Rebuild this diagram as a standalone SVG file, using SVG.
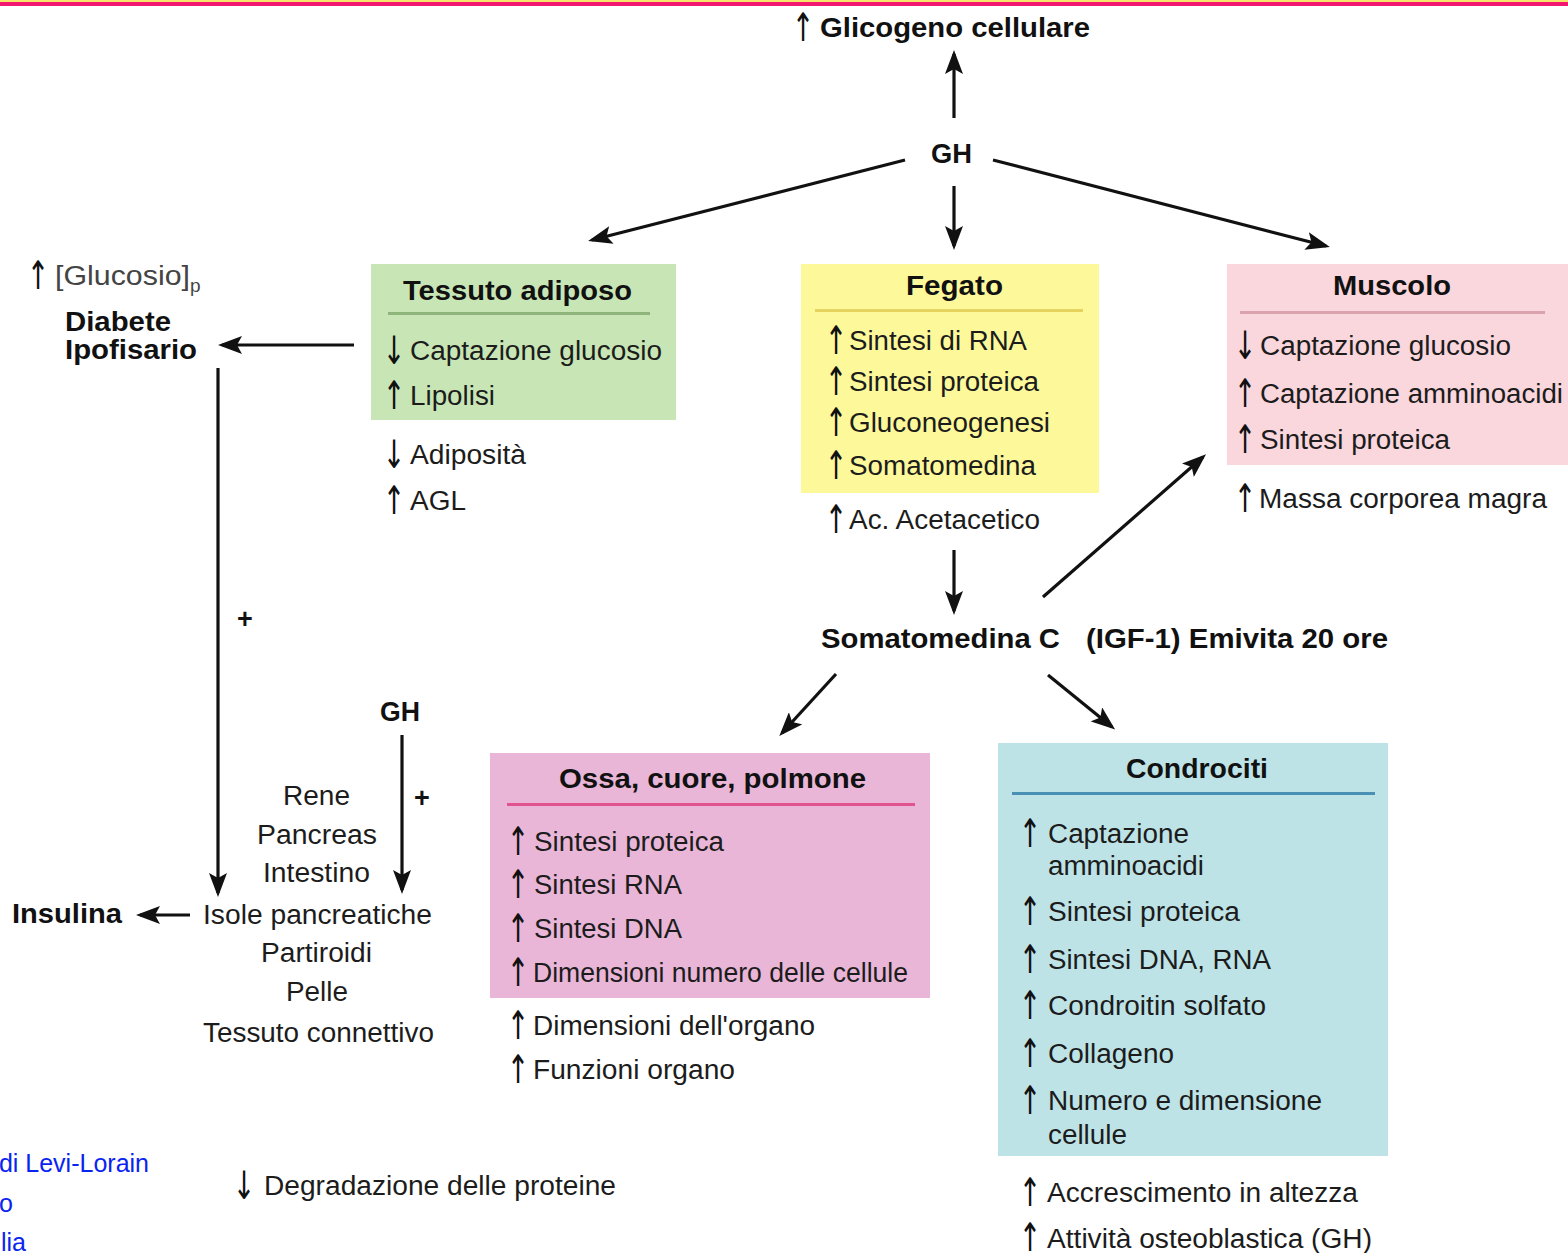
<svg xmlns="http://www.w3.org/2000/svg" width="1568" height="1253" viewBox="0 0 1568 1253">
<style>
text{font-family:"Liberation Sans",Arial,sans-serif;fill:#1c1c1c}
.r{font-size:27px}
.b{font-size:27px;font-weight:bold;fill:#111}
.ar{font-size:27px;font-family:"DejaVu Sans",sans-serif;fill:#111;text-anchor:middle}
.blue{fill:#0a24f0;font-size:25px}
.conn{stroke:#111;stroke-width:3.2;fill:none}
</style>
<defs>
<marker id="ah" markerUnits="userSpaceOnUse" markerWidth="24" markerHeight="18" viewBox="0 0 24 18" refX="20" refY="9" orient="auto">
<path d="M0,0 L24,9 L0,18 L5,9 z" fill="#111"/>
</marker>
</defs>
<rect x="0" y="0" width="1568" height="1253" fill="#fff"/>
<rect x="0" y="0" width="1568" height="2" fill="#f5e36a"/>
<rect x="0" y="2" width="1568" height="4" fill="#f2176f"/>

<g id="connectors">
<path class="conn" marker-end="url(#ah)" d="M954,118 L954,54"/>
<path class="conn" marker-end="url(#ah)" d="M954,186 L954,246"/>
<path class="conn" marker-end="url(#ah)" d="M905,160 L592,240"/>
<path class="conn" marker-end="url(#ah)" d="M993,160 L1326,246"/>
<path class="conn" marker-end="url(#ah)" d="M354,345 L222,345"/>
<path class="conn" marker-end="url(#ah)" d="M218,368 L218,893"/>
<path class="conn" marker-end="url(#ah)" d="M190,915 L140,915"/>
<path class="conn" marker-end="url(#ah)" d="M402,735 L402,890"/>
<path class="conn" marker-end="url(#ah)" d="M954,550 L954,611"/>
<path class="conn" marker-end="url(#ah)" d="M1043,597 L1203,457"/>
<path class="conn" marker-end="url(#ah)" d="M836,674 L782,733"/>
<path class="conn" marker-end="url(#ah)" d="M1048,675 L1112,727"/>
<text class="b" x="245" y="628" text-anchor="middle">+</text>
<text class="b" x="422" y="807" text-anchor="middle">+</text>
</g>

<g id="glicogeno">
<text class="ar" transform="translate(803,41) scale(1,1.45)">↑</text>
<text class="b" x="820" y="37" textLength="270" lengthAdjust="spacingAndGlyphs">Glicogeno cellulare</text>
</g>

<g id="gh-top">
<text class="b" x="931" y="163" textLength="41" lengthAdjust="spacingAndGlyphs">GH</text>
</g>

<g id="tessuto-adiposo">
<rect x="371" y="264" width="305" height="156" fill="#c8e6b5"/>
<text class="b" x="403" y="300" textLength="229" lengthAdjust="spacingAndGlyphs">Tessuto adiposo</text>
<rect x="388" y="312" width="262" height="3" fill="#8fb47c"/>
<text class="ar" transform="translate(394,364) scale(1,1.45)">↓</text>
<text class="r" x="410" y="360" textLength="252" lengthAdjust="spacingAndGlyphs">Captazione glucosio</text>
<text class="ar" transform="translate(394,409) scale(1,1.45)">↑</text>
<text class="r" x="410" y="405" textLength="85" lengthAdjust="spacingAndGlyphs">Lipolisi</text>
<text class="ar" transform="translate(394,468) scale(1,1.45)">↓</text>
<text class="r" x="410" y="464" textLength="116" lengthAdjust="spacingAndGlyphs">Adiposità</text>
<text class="ar" transform="translate(394,514) scale(1,1.45)">↑</text>
<text class="r" x="410" y="510" textLength="56" lengthAdjust="spacingAndGlyphs">AGL</text>
</g>

<g id="fegato">
<rect x="801" y="264" width="298" height="229" fill="#fdf99b"/>
<text class="b" x="906" y="295" textLength="97" lengthAdjust="spacingAndGlyphs">Fegato</text>
<rect x="815" y="309" width="268" height="3" fill="#e6d35e"/>
<text class="ar" transform="translate(836,354) scale(1,1.45)">↑</text>
<text class="r" x="849" y="350" textLength="178" lengthAdjust="spacingAndGlyphs">Sintesi di RNA</text>
<text class="ar" transform="translate(836,395) scale(1,1.45)">↑</text>
<text class="r" x="849" y="391" textLength="190" lengthAdjust="spacingAndGlyphs">Sintesi proteica</text>
<text class="ar" transform="translate(836,436) scale(1,1.45)">↑</text>
<text class="r" x="849" y="432" textLength="201" lengthAdjust="spacingAndGlyphs">Gluconeogenesi</text>
<text class="ar" transform="translate(836,479) scale(1,1.45)">↑</text>
<text class="r" x="849" y="475" textLength="187" lengthAdjust="spacingAndGlyphs">Somatomedina</text>
<text class="ar" transform="translate(836,533) scale(1,1.45)">↑</text>
<text class="r" x="849" y="529" textLength="191" lengthAdjust="spacingAndGlyphs">Ac. Acetacetico</text>
</g>

<g id="muscolo">
<rect x="1227" y="264" width="341" height="201" fill="#fad6dd"/>
<text class="b" x="1333" y="295" textLength="118" lengthAdjust="spacingAndGlyphs">Muscolo</text>
<rect x="1240" y="311" width="305" height="3" fill="#d9a2ad"/>
<text class="ar" transform="translate(1245,359) scale(1,1.45)">↓</text>
<text class="r" x="1260" y="355" textLength="251" lengthAdjust="spacingAndGlyphs">Captazione glucosio</text>
<text class="ar" transform="translate(1245,407) scale(1,1.45)">↑</text>
<text class="r" x="1260" y="403" textLength="303" lengthAdjust="spacingAndGlyphs">Captazione amminoacidi</text>
<text class="ar" transform="translate(1245,453) scale(1,1.45)">↑</text>
<text class="r" x="1260" y="449" textLength="190" lengthAdjust="spacingAndGlyphs">Sintesi proteica</text>
<text class="ar" transform="translate(1245,512) scale(1,1.45)">↑</text>
<text class="r" x="1259" y="508" textLength="288" lengthAdjust="spacingAndGlyphs">Massa corporea magra</text>
</g>

<g id="diabete">
<text class="ar" transform="translate(38,289) scale(1,1.45)">↑</text>
<text class="r" x="55" y="285" style="fill:#444" textLength="135" lengthAdjust="spacingAndGlyphs">[Glucosio]</text>
<text x="190" y="292" style="font-size:19px;fill:#444">p</text>
<text class="b" x="65" y="331" textLength="106" lengthAdjust="spacingAndGlyphs">Diabete</text>
<text class="b" x="65" y="359" textLength="132" lengthAdjust="spacingAndGlyphs">Ipofisario</text>
</g>

<g id="somatomedina">
<text class="b" x="821" y="648" textLength="239" lengthAdjust="spacingAndGlyphs">Somatomedina C</text>
<text class="b" x="1086" y="648" textLength="302" lengthAdjust="spacingAndGlyphs">(IGF-1) Emivita 20 ore</text>
</g>

<g id="gh-bottom">
<text class="b" x="380" y="721" textLength="40" lengthAdjust="spacingAndGlyphs">GH</text>
</g>

<g id="insulina">
<text class="b" x="12" y="923" textLength="110" lengthAdjust="spacingAndGlyphs">Insulina</text>
</g>

<g id="organi">
<text class="r" x="283" y="805" textLength="67" lengthAdjust="spacingAndGlyphs">Rene</text>
<text class="r" x="257" y="844" textLength="120" lengthAdjust="spacingAndGlyphs">Pancreas</text>
<text class="r" x="263" y="882" textLength="107" lengthAdjust="spacingAndGlyphs">Intestino</text>
<text class="r" x="203" y="924" textLength="229" lengthAdjust="spacingAndGlyphs">Isole pancreatiche</text>
<text class="r" x="261" y="962" textLength="111" lengthAdjust="spacingAndGlyphs">Partiroidi</text>
<text class="r" x="286" y="1001" textLength="62" lengthAdjust="spacingAndGlyphs">Pelle</text>
<text class="r" x="203" y="1042" textLength="231" lengthAdjust="spacingAndGlyphs">Tessuto connettivo</text>
</g>

<g id="ossa">
<rect x="490" y="753" width="440" height="245" fill="#e9b6d7"/>
<text class="b" x="559" y="788" textLength="307" lengthAdjust="spacingAndGlyphs">Ossa, cuore, polmone</text>
<rect x="507" y="803" width="408" height="3" fill="#e0538f"/>
<text class="ar" transform="translate(518,855) scale(1,1.45)">↑</text>
<text class="r" x="534" y="851" textLength="190" lengthAdjust="spacingAndGlyphs">Sintesi proteica</text>
<text class="ar" transform="translate(518,898) scale(1,1.45)">↑</text>
<text class="r" x="534" y="894" textLength="148" lengthAdjust="spacingAndGlyphs">Sintesi RNA</text>
<text class="ar" transform="translate(518,942) scale(1,1.45)">↑</text>
<text class="r" x="534" y="938" textLength="148" lengthAdjust="spacingAndGlyphs">Sintesi DNA</text>
<text class="ar" transform="translate(518,986) scale(1,1.45)">↑</text>
<text class="r" x="533" y="982" textLength="375" lengthAdjust="spacingAndGlyphs">Dimensioni numero delle cellule</text>
<text class="ar" transform="translate(518,1039) scale(1,1.45)">↑</text>
<text class="r" x="533" y="1035" textLength="282" lengthAdjust="spacingAndGlyphs">Dimensioni dell'organo</text>
<text class="ar" transform="translate(518,1083) scale(1,1.45)">↑</text>
<text class="r" x="533" y="1079" textLength="202" lengthAdjust="spacingAndGlyphs">Funzioni organo</text>
</g>

<g id="condrociti">
<rect x="998" y="743" width="390" height="413" fill="#bee3e7"/>
<text class="b" x="1126" y="778" textLength="142" lengthAdjust="spacingAndGlyphs">Condrociti</text>
<rect x="1012" y="792" width="363" height="3" fill="#4a8fb4"/>
<text class="ar" transform="translate(1030,847) scale(1,1.45)">↑</text>
<text class="r" x="1048" y="843" textLength="141" lengthAdjust="spacingAndGlyphs">Captazione</text>
<text class="r" x="1048" y="875" textLength="156" lengthAdjust="spacingAndGlyphs">amminoacidi</text>
<text class="ar" transform="translate(1030,925) scale(1,1.45)">↑</text>
<text class="r" x="1048" y="921" textLength="192" lengthAdjust="spacingAndGlyphs">Sintesi proteica</text>
<text class="ar" transform="translate(1030,973) scale(1,1.45)">↑</text>
<text class="r" x="1048" y="969" textLength="223" lengthAdjust="spacingAndGlyphs">Sintesi DNA, RNA</text>
<text class="ar" transform="translate(1030,1019) scale(1,1.45)">↑</text>
<text class="r" x="1048" y="1015" textLength="218" lengthAdjust="spacingAndGlyphs">Condroitin solfato</text>
<text class="ar" transform="translate(1030,1067) scale(1,1.45)">↑</text>
<text class="r" x="1048" y="1063" textLength="126" lengthAdjust="spacingAndGlyphs">Collageno</text>
<text class="ar" transform="translate(1030,1114) scale(1,1.45)">↑</text>
<text class="r" x="1048" y="1110" textLength="274" lengthAdjust="spacingAndGlyphs">Numero e dimensione</text>
<text class="r" x="1048" y="1144" textLength="79" lengthAdjust="spacingAndGlyphs">cellule</text>
<text class="ar" transform="translate(1030,1206) scale(1,1.45)">↑</text>
<text class="r" x="1047" y="1202" textLength="311" lengthAdjust="spacingAndGlyphs">Accrescimento in altezza</text>
<text class="ar" transform="translate(1030,1251) scale(1,1.45)">↑</text>
<text class="r" x="1047" y="1248" textLength="325" lengthAdjust="spacingAndGlyphs">Attività osteoblastica (GH)</text>
</g>

<g id="degradazione">
<text class="ar" transform="translate(244,1199) scale(1,1.45)">↓</text>
<text class="r" x="264" y="1195" textLength="352" lengthAdjust="spacingAndGlyphs">Degradazione delle proteine</text>
</g>

<g id="links">
<text class="blue" x="149" y="1172" text-anchor="end">di Levi-Lorain</text>
<text class="blue" x="13" y="1212" text-anchor="end">o</text>
<text class="blue" x="26" y="1251" text-anchor="end">lia</text>
</g>
</svg>
